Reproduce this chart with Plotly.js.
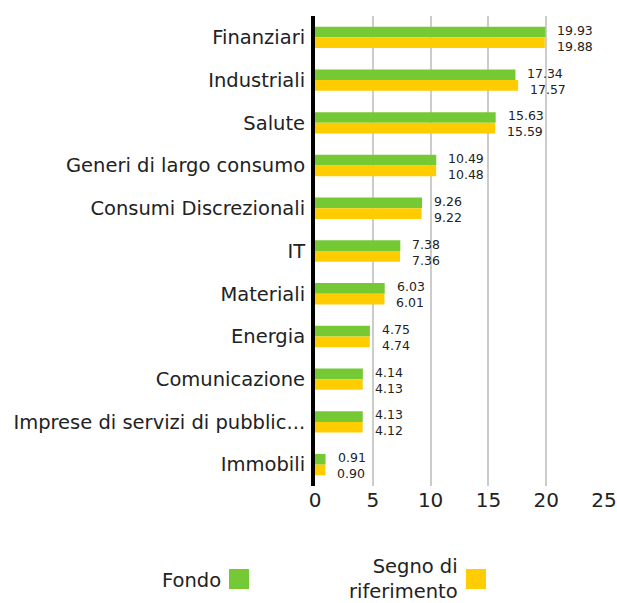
<!DOCTYPE html>
<html><head><meta charset="utf-8">
<script src="https://cdn.plot.ly/plotly-3.0.1.min.js"></script>
<style>body{margin:0;background:#fff}#chart{width:617px;height:603px}</style>
</head><body><div id="chart"></div>
<script>
const categories = ["Finanziari","Industriali","Salute","Generi di largo consumo","Consumi Discrezionali","IT","Materiali","Energia","Comunicazione","Imprese di servizi di pubblic...","Immobili"];
const fondo = [19.93,17.34,15.63,10.49,9.26,7.38,6.03,4.75,4.14,4.13,0.91];
const riferimento = [19.88,17.57,15.59,10.48,9.22,7.36,6.01,4.74,4.13,4.12,0.90];
const seriesNames = ["Fondo","Segno di<br>riferimento"];
const colors = ["#74C934","#FFCC00"];
const font = "DejaVu Sans, sans-serif";
const labelSize = 19.5;

const mk = (vals, i) => ({
  type:'bar', orientation:'h', y:categories, x:vals, name:seriesNames[i],
  marker:{color:colors[i]}, showlegend:false, hoverinfo:'none', cliponaxis:false
});

const valueLabels = [];
[fondo, riferimento].forEach((vals, s) => {
  vals.forEach((v, k) => {
    valueLabels.push({xref:'x', yref:'y', x:v, y:categories[k], xanchor:'left', yanchor:'middle',
      xshift:10, yshift: s === 0 ? 7 : -9, text:v.toFixed(2), showarrow:false,
      font:{size:12.5, color:'#222', family:font}});
  });
});

const layout = {
  width:617, height:603,
  margin:{l:315, r:13, t:16, b:117},
  barmode:'group', bargap:0.5, bargroupgap:0,
  paper_bgcolor:'#fff', plot_bgcolor:'#fff',
  font:{family:font, color:'#222'},
  xaxis:{range:[0,25], dtick:5, showgrid:true, gridcolor:'#cccccc', gridwidth:2,
    zeroline:false, tickfont:{size:20, color:'#222'}, ticks:'', showline:false},
  yaxis:{autorange:'reversed', showgrid:false, zeroline:false, showline:true,
    linecolor:'#000', linewidth:4, ticks:'outside', ticklen:2, tickcolor:'rgba(0,0,0,0)',
    tickfont:{size:labelSize, color:'#222'}},
  annotations: valueLabels.concat([
    {xref:'paper', yref:'paper', x:(223-315)/289, y:(603-580-117)/470, xanchor:'right', yanchor:'middle',
     text:'Fondo', showarrow:false, font:{size:labelSize, color:'#222', family:font}, align:'right'},
    {xref:'paper', yref:'paper', x:(460-315)/289, y:(603-579-117)/470, xanchor:'right', yanchor:'middle',
     text:seriesNames[1], showarrow:false, font:{size:labelSize, color:'#222', family:font}, align:'right'}
  ]),
  shapes:[
    {type:'rect', xref:'paper', yref:'paper', x0:(229-315)/289, x1:(249-315)/289,
     y0:(603-589-117)/470, y1:(603-569-117)/470, fillcolor:colors[0], line:{width:0}},
    {type:'rect', xref:'paper', yref:'paper', x0:(466-315)/289, x1:(486-315)/289,
     y0:(603-589-117)/470, y1:(603-569-117)/470, fillcolor:colors[1], line:{width:0}}
  ]
};
Plotly.newPlot('chart',[mk(fondo,0), mk(riferimento,1)], layout, {displayModeBar:false, staticPlot:true});
</script></body></html>
